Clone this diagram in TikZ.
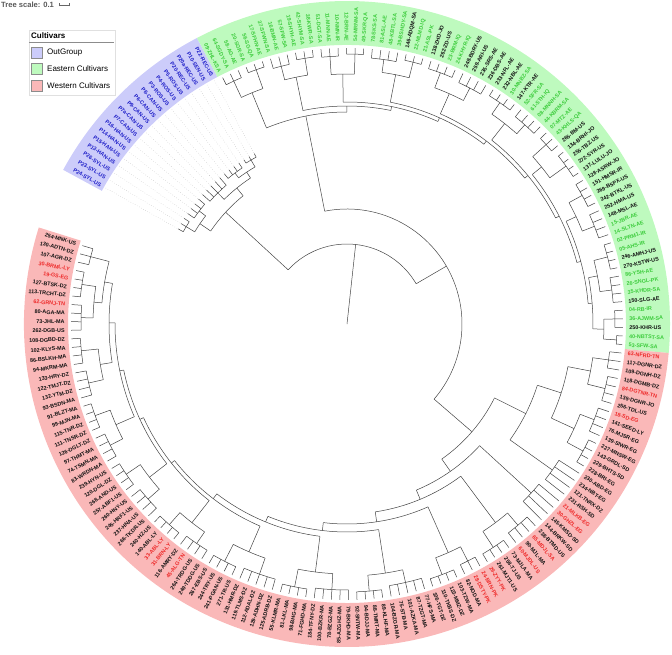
\documentclass[tikz,border=0pt]{standalone}
\usepackage{fontspec}
\setmainfont{Liberation Sans}
\usetikzlibrary{positioning}
\definecolor{bandBlue}{HTML}{CCCCFA}
\definecolor{bandGreen}{HTML}{BEFABE}
\definecolor{bandRed}{HTML}{FAB8B8}
\definecolor{ob}{HTML}{1E1EC8}
\definecolor{eg}{HTML}{3CCC3C}
\definecolor{wr}{HTML}{EE2A2A}
\definecolor{bk}{HTML}{111111}
\definecolor{branch}{HTML}{444444}
% leaf index -> angle
\newcommand\la[1]{\fpeval{150.6-1.78*(#1)}}
\newcommand\tip{276}
\tikzset{
  br/.style={draw=branch,line width=0.5pt},
  lbl/.style={font=\fontsize{5.4}{6}\selectfont\bfseries,inner sep=0.3pt},
  key/.style={font=\fontsize{8}{9}\selectfont,anchor=west,inner sep=0pt},
  swatch/.style={draw=black!45,line width=0.4pt}
}
% radial line r1 -> r2 at leaf position p
\newcommand\Rd[3]{\edef\tA{\la{#3}}\draw[br] (\tA:#1) -- (\tA:#2);}
% arc at r from position a to b
\newcommand\Ar[3]{\edef\tA{\la{#2}}\edef\tB{\la{#3}}\draw[br] (\tA:#1) arc[start angle=\tA,end angle=\tB,radius=#1];}
% leaves i1..i2 hanging off an arc at r
\newcommand\Lf[4][\tip]{\Ar{#2}{#3}{#4}\foreach \j in {#3,...,#4}{\Rd{#2}{#1}{\j}}}
% small clade: parent radius, node radius, first leaf, last leaf
\newcommand\Sc[5][\tip]{\Lf[#1]{#3}{#4}{#5}\Rd{#2}{#3}{(#4+#5)/2}}
% inner node: parent radius, node radius, child positions
\newcommand\Nd[4]{\Ar{#2}{#3}{#4}\Rd{#1}{#2}{(#3+#4)/2}}
\newcommand\band[3]{\edef\tA{\la{#2}}\edef\tB{\la{#3}}%
  \fill[#1] (\tA:279) arc[start angle=\tA,end angle=\tB,radius=279] -- (\tB:323) arc[start angle=\tB,end angle=\tA,radius=323] -- cycle;}

\begin{document}
\begin{tikzpicture}[x=1pt,y=1pt]
\useasboundingbox (-347,-330) rectangle (325,324);
% colour bands
\band{bandBlue}{-0.5}{18.5}
\band{bandGreen}{18.5}{87.5}
\band{bandRed}{87.5}{195.5}
% labels
\foreach \lab [count=\k from 0] in {P24-SYL-US,P23-SYL-US,P26-SYL-US,P13-HAN-US,P15-HAN-US,P14-HAN-US,P16-HAN-US,P7-CAN-US,P7a-CAN-US,P9-CAN-US,P6-CAN-US,P8-CAN-US,P3-ROS-US,P4-ROS-US,P5-ROS-US,P20-REC-US,P20a-REC-US,P10-SEN-US,P22-REC-US}{
  \edef\tA{\la{\k}}
  \node[lbl,text=ob,anchor=east,rotate=\tA+180] (l\k) at (\tA:282) {\lab};
}
\foreach \lab/\col [count=\k from 19] in {09-ZHL-KSA/eg,64-SGDY-SA/eg,58-AG-AE/eg,20-SGR-SA/eg,56-SG-QA/eg,17-SFHN-AE/eg,37-SFWN-SA/eg,16-BMN-AE/eg,57-SFW-SA/eg,19-SHYH-AE/eg,42-SHYM-SA/eg,38-KWR-SA/eg,51-DGT-SA/eg,11-MNN-AE/eg,10-NMN-IR/eg,12-BRN-AE/eg,54-MRNM-SA/eg,49-SKR-QA/eg,78-SKS-SA/eg,81-ASL-AE/eg,48-KBTL-SA/eg,39-BSHDY-SA/eg,146-ADQM-SA/bk,22-MLMD-IQ/eg,21-ASL-PK/eg,138-ZHD-JO/bk,262-ZD-US/bk,23-BRM-IQ/eg,24-KHYR-IQ/eg,248-BDRY-US/bk,259-ARI-US/bk,235-SRS-AE/bk,236-DBS-AE/bk,233-NFL-AE/bk,232-NBL-AE/bk,30-MNBZ-SA/eg,147-KTR-AE/bk,52-SFR-SA/eg,61-STH-IQ/eg,08-MNNH-SA/eg,44-KBRM-SA/eg,07-MTZ-AE/eg,43-KHLS-QA/eg,265-BM-US/bk,134-BRHI-JO/bk,255-TBZ-US/bk,272-SYR-US/bk,137-LULU-JO/bk,128-ASRW-JO/bk,151-HMSR-IR/bk,269-BSPX-US/bk,242-BTKL-US/bk,252-HMA-US/bk,148-MSL-AE/bk,15-JBR-AE/eg,14-SLTN-AE/eg,02-PRM1-IR/eg,05-AHS-IR/eg,246-AMHJ-US/bk,270-KSTW-US/bk,86-YSH-AE/eg,26-SNGL-PK/eg,35-KHDR-SA/eg,150-SLG-AE/bk,04-RB-IR/eg,36-AJWM-SA/eg,250-KHR-US/bk,40-NBTST-SA/eg,53-SFW-SA/eg}{
  \edef\tA{\la{\k}}
  \pgfmathtruncatemacro\rt{cos(\tA)>=0 ? 1 : 0}
  \ifnum\rt=1
    \node[lbl,text=\col,anchor=west,rotate=\tA] (l\k) at (\tA:282) {\lab};
  \else
    \node[lbl,text=\col,anchor=east,rotate=\tA+180] (l\k) at (\tA:282) {\lab};
  \fi
}
\foreach \lab/\col [count=\k from 88] in {63-NFRD-TN/wr,117-DGNR-DZ/bk,109-DGNH-DZ/bk,118-DGMB-DZ/bk,84-DGTNR-TN/wr,135-DGNR-JO/bk,256-TDL-US/bk,18-SD-EG/wr,141-SEED-LY/bk,76-MJSR-EG/bk,139-SIWR-EG/bk,227-MNSW-EG/bk,143-GRDL-SD/bk,229-BHTS-SD/bk,228-BRI-EG/bk,230-ABD-EG/bk,234-NBT-EG/bk,121-TNRX-DZ/bk,231-RSH-SD/bk,21-MLKB-EG/wr,30-GHZL-EG/wr,145-KMSD-SD/bk,144-BRKW-SD/bk,238-BTMD-US/bk,65-MDJL-SA/wr,90-MJL-MA/bk,60-MJDL-US/wr,73-MJLA-MA/bk,258-TJ-US/bk,261-MJT1-US/bk,29-ZYY-PK/wr,24-BRN-PK/wr,28-DSTY-PK/wr,82-NGD-MA/bk,103-TZW-MA/bk,123-MMZ-DZ/bk,110-TKBS-DZ/bk,106-TGT-DZ/bk,77-HFS-MA/bk,87-TZGT-MA/bk,101-AZKA-MA/bk,75-STB-MA/bk,104-BZGR-MA/bk,89-KLHF-MA/bk,88-TMRT-MA/bk,94-BDJJ-MA/bk,92-SNTW-MA/bk,79-BKHD-MA/bk,85-AZGHZ-MA/bk,78-BZGZ-MA/bk,100-BZKR-MA/bk,184-TFNY-DZ/bk,71-FGHD-MA/bk,98-BHG-MA/bk,81-LKL-MA/bk,55-KLMR-MA/bk,125-ADRB-DZ/bk,129-ADHN-DZ/bk,112-ADAL-DZ/bk,119-TLMS-DZ/bk,131-HMR-DZ/bk,271-TR-US/bk,241-PGAN-US/bk,244-TRY-US/bk,267-EBS-US/bk,249-TDDG-US/bk,264-TRDG-US/bk,45-ALG-TN/wr,116-AMRY-DZ/bk,31-BRN-LY/wr,33-ABL-LY/wr,140-ABL-LY/bk,240-HZ-US/bk,266-TKDR-US/bk,237-HNA-US/bk,245-HRF1-US/bk,260-HNY-US/bk,257-ABF1-US/bk,268-AND-US/bk,120-DGL-DZ/bk,239-HYN-US/bk,83-WRDN-MA/bk,74-TSMN-MA/bk,97-THMT-MA/bk,126-DGLT-DZ/bk,111-TNSR-DZ/bk,115-TNR-DZ/bk,99-MJN-MA/bk,91-BLZT-MA/bk,93-BSDN-MA/bk,132-YTM-DZ/bk,122-TMJT-DZ/bk,133-HRY-DZ/bk,94-MKRM-MA/bk,86-BSLKH-MA/bk,102-KLYS-MA/bk,108-DGBD-DZ/bk,262-DGB-US/bk,73-JHL-MA/bk,80-AGA-MA/bk,62-GRNJ-TN/wr,113-TRCHT-DZ/bk,127-BTSK-DZ/bk,19-GS-EG/wr,30-BRML-LY/wr,107-AGR-DZ/bk,130-ADTN-DZ/bk,254-MNK-US/bk}{
  \edef\tA{\la{\k}}
  \pgfmathtruncatemacro\rt{cos(\tA)>=0 ? 1 : 0}
  \ifnum\rt=1
    \node[lbl,text=\col,anchor=west,rotate=\tA] (l\k) at (\tA:282) {\lab};
  \else
    \node[lbl,text=\col,anchor=east,rotate=\tA+180] (l\k) at (\tA:282) {\lab};
  \fi
}
% root and backbone
\Nd{0}{80}{7.4375}{67.64}
\Nd{80}{115}{27.765}{107.515}
% outgroup
\Nd{80}{165}{2.75}{12.125}
\Nd{165}{178}{1}{4.5}
\Sc[194]{178}{188}{0}{2}
\Sc[194]{178}{186}{3}{6}
\Nd{165}{175}{9}{15.25}
\Sc[194]{175}{184}{7}{11}
\Nd{175}{182}{13.5}{17}
\Sc[194]{182}{188}{12}{15}
\Sc[194]{182}{190}{16}{18}
\foreach \j in {0,...,18}{\edef\tA{\la{\j}}\draw[gray!60,dotted] (\tA:195) -- (\tA:277);}
% eastern clade, ladder
\Nd{115}{212}{21.5}{34.03}
\Nd{212}{218}{27.5}{40.561}
\Nd{218}{222}{33.5}{47.621}
\Nd{222}{226}{40.25}{54.992}
\Nd{226}{230}{47.5}{62.484}
\Nd{230}{234}{55.5}{69.469}
\Nd{234}{238}{62.75}{76.188}
\Nd{238}{242}{70.5}{81.875}
\Nd{242}{246}{78.5}{85.25}
\Nd{212}{250}{20}{23}
\Sc{250}{268}{19}{21}
\Sc{250}{270}{22}{24}
\Nd{218}{252}{26}{29}
\Sc{252}{266}{25}{27}
\Sc{252}{269}{28}{30}
\Nd{222}{250}{32}{35}
\Sc{250}{268}{31}{33}
\Sc{250}{270}{34}{36}
\Nd{226}{254}{38.5}{42}
\Sc{254}{267}{37}{40}
\Sc{254}{270}{41}{43}
\Nd{230}{252}{45.5}{49.5}
\Sc{252}{268}{44}{47}
\Sc{252}{266}{48}{51}
\Nd{234}{255}{53.5}{57.5}
\Sc{255}{269}{52}{55}
\Sc{255}{267}{56}{59}
\Nd{238}{250}{61}{64.5}
\Sc{250}{268}{60}{62}
\Sc{250}{270}{63}{66}
\Nd{242}{253}{68.5}{72.5}
\Sc{253}{268}{67}{70}
\Sc{253}{266}{71}{74}
\Nd{246}{255}{76.5}{80.5}
\Sc{255}{269}{75}{78}
\Sc{255}{267}{79}{82}
\Nd{246}{257}{84}{86.5}
\Sc{257}{268}{83}{85}
\Sc{257}{270}{86}{87}
% western clade
\Nd{115}{165}{99.5625}{115.468}
\Nd{165}{200}{94.625}{104.5}
\Nd{200}{225}{90.75}{98.5}
\Nd{225}{248}{89}{92.5}
\Sc{248}{264}{88}{90}
\Sc{248}{266}{91}{94}
\Nd{225}{250}{96.5}{100.5}
\Sc{250}{265}{95}{98}
\Sc{250}{268}{99}{102}
\Sc{200}{252}{103}{106}
% western ladder
\Nd{165}{180}{108.5}{122.435}
\Nd{180}{190}{114.5}{130.37}
\Nd{190}{200}{121.75}{138.99}
\Nd{200}{208}{130.25}{147.73}
\Nd{208}{214}{139.25}{156.211}
\Nd{214}{220}{148.25}{164.172}
\Nd{220}{224}{156.5}{171.844}
\Nd{224}{228}{164.5}{179.188}
\Nd{228}{232}{172.5}{185.875}
\Nd{232}{238}{180.5}{191.25}
\Sc{180}{250}{107}{110}
\Nd{190}{248}{112.5}{116.5}
\Sc{248}{264}{111}{114}
\Sc{248}{267}{115}{118}
\Nd{200}{250}{120}{123.5}
\Sc{250}{266}{119}{121}
\Sc{250}{268}{122}{125}
\Nd{208}{252}{128}{132.5}
\Sc{252}{265}{126}{130}
\Sc{252}{268}{131}{134}
\Nd{214}{250}{137}{141.5}
\Sc{250}{266}{135}{139}
\Sc{250}{268}{140}{143}
\Nd{220}{248}{146}{150.5}
\Sc{248}{265}{144}{148}
\Sc{248}{267}{149}{152}
\Nd{224}{252}{154.5}{158.5}
\Sc{252}{266}{153}{156}
\Sc{252}{268}{157}{160}
\Nd{228}{250}{162.5}{166.5}
\Sc{250}{265}{161}{164}
\Sc{250}{267}{165}{168}
\Nd{232}{252}{170.5}{174.5}
\Sc{252}{266}{169}{172}
\Sc{252}{268}{173}{176}
\Nd{238}{250}{178.5}{182.5}
\Sc{250}{265}{177}{180}
\Sc{250}{267}{181}{184}
\Nd{238}{246}{188.5}{194}
\Nd{246}{254}{186.5}{190.5}
\Sc{254}{266}{185}{188}
\Sc{254}{268}{189}{192}
\Sc{246}{265}{193}{195}
% tree scale
\node[font=\fontsize{7.6}{9}\selectfont\bfseries,text=black!65,anchor=west,inner sep=0pt] (scale) at (-346,319) {Tree scale: 0.1};
\draw[black!60,line width=0.4pt] (-288,319) -- (-278,319) (-288,317.5) -- (-288,320.5) (-278,317.5) -- (-278,320.5);
% legend
\draw[black!12,fill=white] (-318,294) rectangle (-232,229);
\node[key,font=\fontsize{8}{9}\selectfont\bfseries] (ktitle) at (-316,288) {Cultivars};
\draw[black!45,line width=0.8pt] (-318,282) -- (-233,282);
\draw[swatch,fill=bandBlue] (-316,277) rectangle (-305,266);
\draw[swatch,fill=bandGreen] (-316,261) rectangle (-305,250);
\draw[swatch,fill=bandRed] (-316,244) rectangle (-305,233);
\node[key] (kout) at (-300,271.5) {OutGroup};
\node[key] (keast) at (-300,255) {Eastern Cultivars};
\node[key] (kwest) at (-300,238.5) {Western Cultivars};
\end{tikzpicture}
\end{document}
